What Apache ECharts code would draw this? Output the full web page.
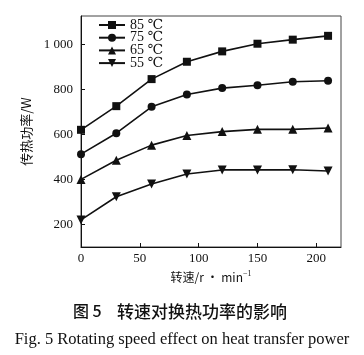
<!DOCTYPE html>
<html>
<head>
<meta charset="utf-8">
<script src="https://cdn.jsdelivr.net/npm/echarts@6/dist/echarts.min.js"></script>
<style>
html,body{margin:0;padding:0;background:#fff;}
#c{width:364px;height:355px;}
</style>
</head>
<body>
<div id="c"></div>
<script>
var speeds = [0, 30, 60, 90, 120, 150, 180, 210];
var seriesNames = ['85 ℃', '75 ℃', '65 ℃', '55 ℃'];
var p85 = [620, 725, 845, 922, 968, 1002, 1020, 1037];
var p75 = [512, 605, 722, 777, 805, 818, 833, 838];
var p65 = [400, 485, 552, 595, 612, 622, 622, 628];
var p55 = [220, 323, 380, 424, 442, 442, 443, 437];
var xTicks = [0, 50, 100, 150, 200];
var yTicks = [200, 400, 600, 800, 1000];

var chart = echarts.init(document.getElementById('c'), null, {renderer: 'canvas'});
var serif = '"Liberation Serif", "DejaVu Serif", serif';
var cjk = '"Noto Sans CJK SC", sans-serif';

function pairs(v) { return speeds.map(function (s, i) { return [s, v[i]]; }); }
var symbols = ['rect', 'circle', 'triangle', 'triangle'];
var rotates = [0, 0, 0, 180];
var sizes = [8, 8, 9, 9];
var datasets = [p85, p75, p65, p55];

var series = datasets.map(function (d, i) {
  return {
    name: seriesNames[i],
    type: 'line',
    data: pairs(d),
    symbol: symbols[i],
    symbolRotate: rotates[i],
    symbolSize: sizes[i],
    showAllSymbol: true,
    lineStyle: {color: '#111', width: 1.6},
    itemStyle: {color: '#111'},
    emphasis: {disabled: true},
    animation: false
  };
});

chart.setOption({
  animation: false,
  grid: {left: 81, top: 16, right: 23, bottom: 108, show: true, borderColor: '#444', borderWidth: 1, containLabel: false},
  legend: {
    left: 98, top: 18, orient: 'vertical', padding: 0,
    itemWidth: 26, itemHeight: 10, itemGap: -1.3,
    data: seriesNames,
    textStyle: {fontFamily: serif, fontSize: 14, color: '#111', lineHeight: 12.7, height: 12.7}
  },
  xAxis: {
    type: 'value', min: 0, max: 221,
    axisLine: {lineStyle: {color: '#111', width: 1}},
    axisTick: {inside: true, length: 4, customValues: xTicks, lineStyle: {color: '#111'}},
    axisLabel: {customValues: xTicks, margin: 5, fontFamily: serif, fontSize: 13, color: '#111'},
    splitLine: {show: false},
    name: '{a|转速/r · min}{b|−1}',
    nameLocation: 'middle', nameGap: 22,
    nameTextStyle: {
      rich: {
        a: {fontFamily: cjk, fontSize: 12, color: '#111'},
        b: {fontFamily: serif, fontSize: 8, color: '#111', verticalAlign: 'top', padding: [0, 0, 8, 0]}
      }
    }
  },
  yAxis: {
    type: 'value', min: 100, max: 1125,
    axisLine: {show: true, lineStyle: {color: '#111', width: 1}},
    axisTick: {show: true, inside: true, length: 4, customValues: yTicks, lineStyle: {color: '#111'}},
    axisLabel: {
      customValues: yTicks, margin: 8, fontFamily: serif, fontSize: 13, color: '#111',
      formatter: function (v) { return v >= 1000 ? Math.floor(v / 1000) + ' ' + String(v % 1000).padStart(3, '0') : String(v); }
    },
    splitLine: {show: false},
    name: '传热功率/W',
    nameLocation: 'middle', nameGap: 37,
    nameTextStyle: {fontFamily: cjk, fontSize: 13, color: '#111'}
  },
  graphic: [
    {type: 'text', left: 73, top: 303, style: {text: '图 5', font: '500 16px "Noto Sans CJK SC"', fill: '#111'}},
    {type: 'text', left: 117, top: 303, style: {text: '转速对换热功率的影响', font: '500 17px "Noto Sans CJK SC"', fill: '#111'}},
    {type: 'text', left: 'center', top: 331, style: {text: 'Fig. 5 Rotating speed effect on heat transfer power', font: '16.5px "Liberation Serif"', fill: '#111'}}
  ],
  series: series
});
</script>
</body>
</html>
